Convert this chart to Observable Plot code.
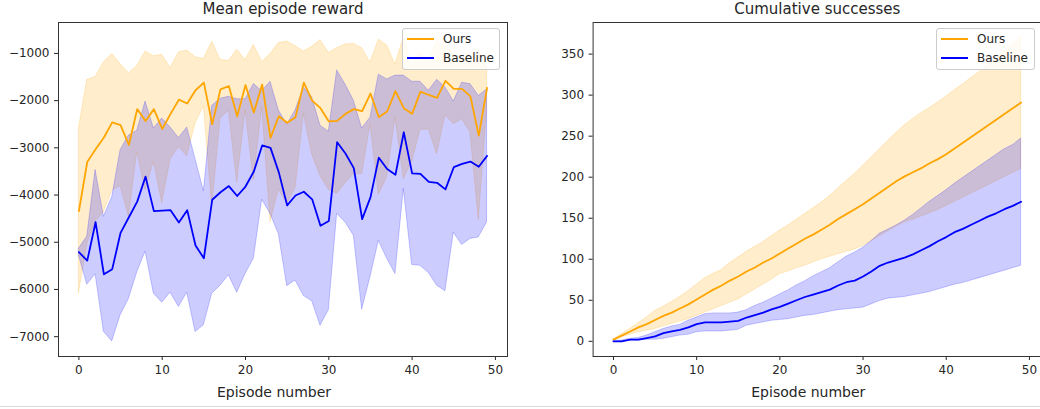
<!DOCTYPE html>
<html>
<head>
<meta charset="utf-8">
<script src="https://cdn.jsdelivr.net/npm/d3@7"></script>
<script src="https://cdn.jsdelivr.net/npm/@observablehq/plot@0.6"></script>
<style>
  html, body { margin: 0; padding: 0; background: #fff; }
  #fig { position: relative; width: 1040px; height: 409px; overflow: hidden; background: #fff;
         font-family: "DejaVu Sans", sans-serif; color: #262626; }
  .panel { position: absolute; top: 0; }
  .legend { position: absolute; box-sizing: border-box; border: 1px solid #cccccc; border-radius: 3px;
            background: rgba(255,255,255,0.8); }
  .legend .swatch { position: absolute; height: 2px; }
  .legend .name { position: absolute; font-size: 12px; line-height: 14px; white-space: nowrap; }
  .bottom-rule { position: absolute; left: 0; top: 406px; width: 1040px; height: 1px; background: #d9d9d9; }
</style>
</head>
<body>
<div id="fig"></div>
<script>
// Episode index shared by both panels
const episodes = [0,1,2,3,4,5,6,7,8,9,10,11,12,13,14,15,16,17,18,19,20,21,22,23,24,
  25,26,27,28,29,30,31,32,33,34,35,36,37,38,39,40,41,42,43,44,45,46,47,48,49];
const xTicks = [0, 10, 20, 30, 40, 50];

// Mean episode reward: mean and band bounds for each method
const rewardOurs = [-4340,-3300,-3030,-2780,-2460,-2520,-2940,-2180,-2430,-2180,-2600,-2280,-1980,-2060,-1780,-1620,
  -2500,-1760,-1690,-2330,-1670,-2250,-1660,-2790,-2330,-2470,-2350,-1620,-2000,-2160,-2440,-2430,-2280,-2180,
  -2220,-1850,-2350,-2230,-1800,-2160,-2280,-1810,-1880,-1940,-1580,-1750,-1750,-1910,-2740,-1730];
const rewardOursHi = [-2600,-1560,-1500,-1190,-1010,-1230,-1420,-1270,-960,-1060,-1030,-1310,-980,-940,-1080,-1120,
  -750,-1140,-1160,-920,-1140,-820,-1180,-1010,-780,-750,-850,-960,-860,-720,-990,-890,-810,-800,-890,-1200,
  -710,-830,-1240,-660,-1260,-1000,-1150,-750,-850,-1000,-1100,-1150,-950,-1300];
const rewardOursLo = [-6080,-5040,-4560,-4370,-3910,-3810,-4460,-3090,-3900,-3300,-4170,-3250,-2980,-3180,-2480,-2120,
  -4250,-2380,-2220,-3740,-2200,-3680,-2140,-4570,-3880,-4190,-3850,-2280,-3140,-3600,-3890,-3970,-3750,-3560,
  -3550,-2500,-3990,-3630,-2360,-3660,-3300,-2620,-2610,-3130,-2310,-2500,-2400,-2670,-4530,-2160];
const rewardBase = [-5210,-5390,-4575,-5680,-5570,-4800,-4470,-4140,-3610,-4340,-4330,-4320,-4580,-4320,-5070,-5340,
  -4100,-3940,-3810,-4020,-3820,-3500,-2950,-3000,-3520,-4220,-4010,-3930,-4090,-4650,-4550,-2880,-3120,-3430,
  -4510,-4050,-3210,-3450,-3570,-2670,-3540,-3550,-3720,-3740,-3880,-3410,-3340,-3290,-3400,-3170];
const rewardBaseHi = [-5140,-4880,-3470,-4460,-4040,-3050,-2740,-2640,-2020,-2590,-2380,-2570,-2790,-2570,-3240,-3920,
  -2110,-1960,-1920,-1970,-1970,-1650,-1800,-1600,-2210,-2510,-2210,-1720,-1930,-2530,-2660,-1360,-1660,-2000,
  -2590,-2360,-1450,-1550,-1470,-1470,-1600,-1600,-1790,-1560,-1720,-2020,-1620,-1650,-1900,-1760];
const rewardBaseLo = [-5280,-5900,-5680,-6900,-7100,-6550,-6200,-5640,-5200,-6090,-6280,-6070,-6370,-6070,-6900,-6760,
  -6090,-5920,-5700,-6070,-5670,-5350,-4100,-4400,-4830,-5930,-5810,-6140,-6250,-6770,-6440,-4400,-4580,-4860,
  -6430,-5740,-4970,-5350,-5670,-3870,-5480,-5500,-5650,-5920,-6040,-4800,-5060,-4930,-4900,-4580];
const rewardTicks = [-7000, -6000, -5000, -4000, -3000, -2000, -1000];

// Cumulative successes: mean and band bounds for each method
const successOurs = [2,7,12,17,21,26,31,35,40,45,51,57,63,68,74,79,85,90,96,101,107,113,119,125,130,136,142,149,
  155,161,167,174,181,188,195,201,206,211,217,222,228,235,242,249,256,263,270,277,284,291];
const successOursHi = [2,9,15,22,29,37,42,48,54,61,69,77,82,87,95,102,109,115,121,128,135,141,148,155,162,169,177,
  186,195,204,214,224,234,244,254,263,271,278,284,291,298,306,313,321,328,336,345,354,362,371];
const successOursLo = [2,5,8,11,13,15,18,21,24,27,31,35,39,43,47,51,57,63,69,75,82,85,89,92,96,100,103,106,109,
  112,116,122,128,134,140,145,148,152,156,160,165,170,175,180,185,190,195,200,205,210];
const successBase = [0,0,2,2,4,6,10,12,14,17,21,23,23,23,24,25,29,32,35,39,42,46,50,54,57,60,63,68,72,74,79,85,
  92,96,99,102,106,111,116,122,127,133,137,142,147,152,156,161,165,170];
const successBaseHi = [0,1,3,4,7,11,15,18,20,25,29,33,34,34,34,35,38,43,47,52,57,62,68,73,79,84,89,96,103,108,114,
  122,131,136,141,147,154,162,170,177,184,192,199,206,213,220,227,234,239,247];
const successBaseLo = [0,0,1,1,2,2,3,5,7,8,11,12,12,12,13,14,19,21,23,25,26,27,29,31,32,34,36,38,39,40,41,45,49,
  52,53,54,56,58,60,63,66,69,71,74,77,80,83,86,89,92];
const successTicks = [0, 50, 100, 150, 200, 250, 300, 350];

const seriesNames = ["Ours", "Baseline"];
const seriesColors = ["#FFA500", "#0000FF"];

const fig = document.getElementById("fig");

function drawPanel(opts) {
  const rows = episodes.map((ep, i) => ({
    ep,
    ours: opts.ours[i], oursLo: opts.oursLo[i], oursHi: opts.oursHi[i],
    base: opts.base[i], baseLo: opts.baseLo[i], baseHi: opts.baseHi[i]
  }));
  const chart = Plot.plot({
    width: opts.width,
    height: 409,
    marginTop: 22,
    marginBottom: 53,
    marginLeft: opts.marginLeft,
    marginRight: opts.marginRight,
    style: { fontFamily: "DejaVu Sans", fontSize: "12px", color: "#262626", background: "transparent" },
    x: { domain: [-2.45, 51.45], ticks: xTicks, tickSize: 4, tickPadding: 5, label: null },
    y: { domain: opts.yDomain, ticks: opts.yTicks, tickSize: 4, tickPadding: 5, label: null,
         tickFormat: d3.format("d") },
    marks: [
      Plot.areaY(rows, { x: "ep", y1: "oursLo", y2: "oursHi", fill: seriesColors[0], fillOpacity: 0.2,
                         stroke: seriesColors[0], strokeOpacity: 0.2, strokeWidth: 1 }),
      Plot.areaY(rows, { x: "ep", y1: "baseLo", y2: "baseHi", fill: seriesColors[1], fillOpacity: 0.2,
                         stroke: seriesColors[1], strokeOpacity: 0.2, strokeWidth: 1 }),
      Plot.lineY(rows, { x: "ep", y: "ours", stroke: seriesColors[0], strokeWidth: 1.8 }),
      Plot.lineY(rows, { x: "ep", y: "base", stroke: seriesColors[1], strokeWidth: 1.8 }),
      Plot.frame({ stroke: "#333" }),
      Plot.text([opts.title], { frameAnchor: "top", dy: -8.5, lineAnchor: "bottom", fontSize: 15,
                                fill: "#262626" }),
      Plot.text(["Episode number"], { frameAnchor: "bottom", dy: 40, dx: -9, lineAnchor: "bottom",
                                      fontSize: 14, fill: "#262626" })
    ]
  });
  chart.classList.add("panel");
  chart.style.left = opts.left + "px";
  fig.appendChild(chart);

  // legend box in the upper right of the axes
  const lg = document.createElement("div");
  lg.className = "legend";
  Object.assign(lg.style, { left: opts.legend.x + "px", top: "28px", width: opts.legend.w + "px", height: "42px" });
  seriesNames.forEach((name, k) => {
    const sw = document.createElement("div");
    sw.className = "swatch";
    Object.assign(sw.style, { left: "4px", top: (9 + 19 * k) + "px", width: "27px", backgroundColor: seriesColors[k] });
    const tx = document.createElement("div");
    tx.className = "name";
    Object.assign(tx.style, { left: "40px", top: (3 + 19 * k) + "px" });
    tx.textContent = name;
    lg.appendChild(sw);
    lg.appendChild(tx);
  });
  fig.appendChild(lg);
}

drawPanel({
  title: "Mean episode reward",
  left: 0, width: 520, marginLeft: 58, marginRight: 13,
  yDomain: [-7420, -345], yTicks: rewardTicks,
  ours: rewardOurs, oursLo: rewardOursLo, oursHi: rewardOursHi,
  base: rewardBase, baseLo: rewardBaseLo, baseHi: rewardBaseHi,
  legend: { x: 402, w: 98 }
});

drawPanel({
  title: "Cumulative successes",
  left: 520, width: 535, marginLeft: 72.6, marginRight: 14,
  yDomain: [-18.5, 388.5], yTicks: successTicks,
  ours: successOurs, oursLo: successOursLo, oursHi: successOursHi,
  base: successBase, baseLo: successBaseLo, baseHi: successBaseHi,
  legend: { x: 936, w: 99 }
});

const rule = document.createElement("div");
rule.className = "bottom-rule";
fig.appendChild(rule);
</script>
</body>
</html>
